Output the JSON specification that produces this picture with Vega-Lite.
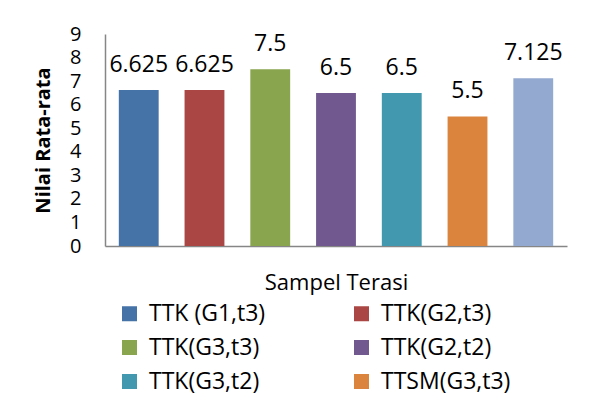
{
  "$schema": "https://vega.github.io/schema/vega-lite/v6.json",
  "autosize": {"type": "none"},
  "width": 462,
  "height": 212,
  "padding": {"left": 105, "top": 34, "right": 25, "bottom": 163},
  "background": "white",
  "data": {
    "values": [
      {"sampel": "TTK (G1,t3)", "nilai": 6.625, "label": "6.625"},
      {"sampel": "TTK(G2,t3)", "nilai": 6.625, "label": "6.625"},
      {"sampel": "TTK(G3,t3)", "nilai": 7.5, "label": "7.5"},
      {"sampel": "TTK(G2,t2)", "nilai": 6.5, "label": "6.5"},
      {"sampel": "TTK(G3,t2)", "nilai": 6.5, "label": "6.5"},
      {"sampel": "TTSM(G3,t3)", "nilai": 5.5, "label": "5.5"},
      {"sampel": "TTSM(G3,t2)", "nilai": 7.125, "label": "7.125"}
    ]
  },
  "config": {
    "view": {"stroke": null},
    "font": "Open Sans"
  },
  "encoding": {
    "x": {
      "field": "sampel",
      "type": "nominal",
      "sort": null,
      "scale": {"paddingInner": 0.394, "paddingOuter": 0.21},
      "axis": {
        "title": "Sampel Terasi",
        "labels": false,
        "ticks": false,
        "domainColor": "#868686",
        "domainWidth": 1.5,
        "titleFont": "Open Sans",
        "titleFontSize": 22,
        "titleFontWeight": "normal",
        "titleColor": "#000000",
        "titlePadding": 26
      }
    },
    "y": {
      "field": "nilai",
      "type": "quantitative",
      "scale": {"domain": [0, 9]},
      "axis": {
        "title": "Nilai Rata-rata",
        "values": [0, 1, 2, 3, 4, 5, 6, 7, 8, 9],
        "grid": false,
        "ticks": false,
        "domainColor": "#868686",
        "domainWidth": 1.5,
        "labelFont": "Open Sans",
        "labelFontSize": 20,
        "labelColor": "#000000",
        "labelPadding": 24,
        "labelOverlap": false,
        "titleFont": "Open Sans",
        "titleFontSize": 20,
        "titleFontWeight": "bold",
        "titleColor": "#000000",
        "titlePadding": 16
      }
    }
  },
  "layer": [
    {
      "mark": {"type": "bar"},
      "encoding": {
        "color": {
          "field": "sampel",
          "type": "nominal",
          "sort": null,
          "scale": {
            "range": ["#4572A7", "#AA4643", "#89A54E", "#71588F", "#4198AF", "#DB843D", "#93A9CF"]
          },
          "legend": {
            "title": null,
            "orient": "none",
            "direction": "horizontal",
            "legendX": 13,
            "legendY": 268,
            "columns": 2,
            "gridAlign": "all",
            "columnPadding": 71,
            "rowPadding": 10,
            "padding": 0,
            "values": ["TTK (G1,t3)", "TTK(G2,t3)", "TTK(G3,t3)", "TTK(G2,t2)", "TTK(G3,t2)", "TTSM(G3,t3)"],
            "symbolType": "square",
            "symbolSize": 225,
            "symbolStrokeWidth": 0,
            "labelFont": "Open Sans",
            "labelFontSize": 23,
            "labelColor": "#000000",
            "labelOffset": 8,
            "labelLimit": 300
          }
        }
      }
    },
    {
      "mark": {"type": "text", "baseline": "alphabetic", "dy": -18, "fontSize": 23, "font": "Open Sans", "color": "#000000"},
      "encoding": {
        "text": {"field": "label", "type": "nominal"}
      }
    }
  ]
}
